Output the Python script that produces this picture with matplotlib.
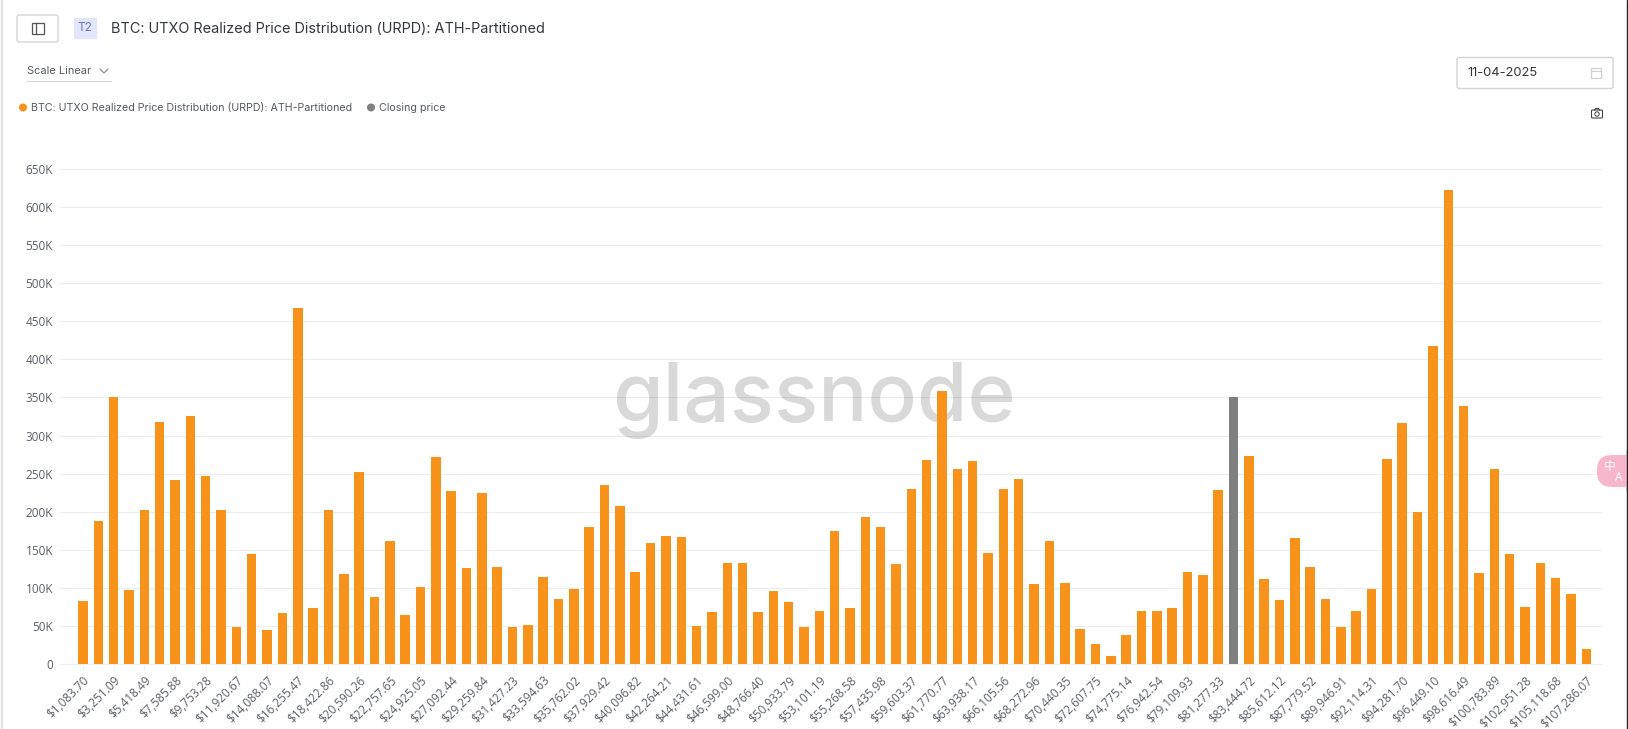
import numpy as np
import matplotlib
matplotlib.use("Agg")
import matplotlib.pyplot as plt
from matplotlib.patches import Rectangle, FancyBboxPatch, Circle

# every second bin gets a label
tick_labels = ["$1,083.70", "$3,251.09", "$5,418.49", "$7,585.88", "$9,753.28", "$11,920.67", "$14,088.07",
               "$16,255.47", "$18,422.86", "$20,590.26", "$22,757.65", "$24,925.05", "$27,092.44", "$29,259.84",
               "$31,427.23", "$33,594.63", "$35,762.02", "$37,929.42", "$40,096.82", "$42,264.21", "$44,431.61",
               "$46,599.00", "$48,766.40", "$50,933.79", "$53,101.19", "$55,268.58", "$57,435.98", "$59,603.37",
               "$61,770.77", "$63,938.17", "$66,105.56", "$68,272.96", "$70,440.35", "$72,607.75", "$74,775.14",
               "$76,942.54", "$79,109.93", "$81,277.33", "$83,444.72", "$85,612.12", "$87,779.52", "$89,946.91",
               "$92,114.31", "$94,281.70", "$96,449.10", "$98,616.49", "$100,783.89", "$102,951.28", "$105,118.68",
               "$107,286.07"]

# supply per bin, in thousands of BTC
urpd_k = [83, 188, 351, 97, 202, 318, 242, 326, 247, 202,
          48, 144, 44, 67, 468, 73, 202, 118, 252, 88,
          161, 64, 101, 272, 227, 126, 225, 128, 48, 51,
          114, 86, 98, 180, 235, 207, 121, 159, 168, 167,
          50, 68, 132, 132, 68, 96, 81, 48, 69, 175,
          74, 193, 180, 131, 230, 268, 359, 256, 267, 146,
          230, 243, 105, 162, 107, 46, 26, 10, 38, 70,
          69, 73, 121, 117, 228, 351, 273, 112, 84, 165,
          128, 85, 48, 69, 98, 269, 317, 200, 418, 623,
          339, 120, 256, 144, 75, 132, 113, 92, 20]
close_bin = 75

y_ticks_k = [0, 50, 100, 150, 200, 250, 300, 350, 400, 450, 500, 550, 600, 650]

W, H = 1628, 729
ORANGE = "#F7931A"
GREY = "#7f7f7f"
TXT = "#5a5f66"

plt.rcParams["font.family"] = ["Open Sans", "DejaVu Sans"]

fig = plt.figure(figsize=(W / 100, H / 100), dpi=100, facecolor="white")

# watermark sits under the grid and the bars
bg = fig.add_axes([0, 0, 1, 1])
bg.set_xlim(0, W)
bg.set_ylim(H, 0)
bg.axis("off")
bg.text(612, 421, "glassnode", fontsize=59, family="Inter", weight="medium", color="#d9d9d9",
        va="baseline", ha="left")

# chart axes placed by pixel edges
left, right, top, bottom = 60, 1602, 169, 664
ax = fig.add_axes([left / W, 1 - bottom / H, (right - left) / W, (bottom - top) / H], facecolor="none")
pitch = 15.34
x0 = 83
ax.set_xlim((left - x0) / pitch, (right - x0) / pitch)
ax.set_ylim(0, 650000)

xs = np.arange(len(urpd_k))
vals = np.array(urpd_k) * 1000
colors = [GREY if i == close_bin else ORANGE for i in xs]
ax.bar(xs, vals, width=0.62, color=colors, zorder=3)

ax.set_yticks([v * 1000 for v in y_ticks_k])
ax.set_yticklabels(["0" if v == 0 else f"{v}K" for v in y_ticks_k], fontsize=8.5, color=TXT)
ax.set_xticks(xs[::2])
ax.set_xticklabels(tick_labels, rotation=45, ha="right", rotation_mode="anchor",
                   fontsize=8.5, color=TXT)
ax.tick_params(axis="y", length=0, pad=5)
ax.tick_params(axis="x", length=4, width=0.8, color="#f0f0f0", pad=3)
ax.grid(axis="y", color="black", alpha=0.07, lw=0.8, zorder=0)
ax.set_axisbelow(True)
for s in ["top", "left", "right"]:
    ax.spines[s].set_visible(False)
ax.spines["bottom"].set_color("#efefef")

# page furniture drawn in pixel coordinates on a full-figure overlay
ui = fig.add_axes([0, 0, 1, 1], facecolor="none")
ui.set_xlim(0, W)
ui.set_ylim(H, 0)
ui.axis("off")

ui.add_patch(Rectangle((1, 0), 1.2, H, color="#e3e3e3"))
ui.add_patch(Rectangle((W - 1.5, 0), 1.5, H, color="#222222"))

# panel toggle button
ui.add_patch(FancyBboxPatch((17, 15), 41, 27, boxstyle="round,pad=0,rounding_size=2",
                            fc="white", ec="#d4d4d4", lw=1))
ui.add_patch(Rectangle((32, 23), 12, 11, fc="none", ec="#555555", lw=0.9))
ui.plot([36, 36], [23, 34], color="#555555", lw=0.9)

# tier badge and title
ui.add_patch(Rectangle((74, 18), 22, 20, color="#e3e6fa"))
ui.text(85, 28, "T2", fontsize=8.5, family="Inter", color="#6f78c8", ha="center", va="center")
ui.text(111, 29, "BTC: UTXO Realized Price Distribution (URPD): ATH-Partitioned",
        fontsize=10.4, family="Inter", color="#33373d", va="center")

# scale dropdown
ui.text(27, 71, "Scale Linear", fontsize=7.9, family="Inter", color="#555a60", va="center")
ui.plot([27, 111], [81, 81], color="#d8d8d8", lw=0.8)
ui.plot([100, 104, 108], [69, 73, 69], color="#888888", lw=0.8)

# legend row
ui.add_patch(Circle((23, 107.5), 3.3, color=ORANGE))
ui.text(31, 107.5, "BTC: UTXO Realized Price Distribution (URPD): ATH-Partitioned",
        fontsize=7.7, family="Inter", color="#555a60", va="center")
ui.add_patch(Circle((371, 107.5), 3.3, color=GREY))
ui.text(379, 107.5, "Closing price", fontsize=7.7, family="Inter", color="#555a60", va="center")

# date box
ui.add_patch(FancyBboxPatch((1457, 57.5), 156, 31, boxstyle="round,pad=0,rounding_size=2",
                            fc="white", ec="#d4d4d4", lw=1))
ui.text(1467, 73, "11-04-2025", fontsize=9.3, family="Inter", color="#33373d", va="center")
ui.add_patch(Rectangle((1591, 68), 10, 10, fc="none", ec="#d0d0d0", lw=0.9))
ui.plot([1591, 1601], [71, 71], color="#d0d0d0", lw=0.9)

# camera icon
ui.add_patch(FancyBboxPatch((1591.5, 110), 11, 8, boxstyle="round,pad=0,rounding_size=1",
                            fc="none", ec="#444444", lw=0.8))
ui.plot([1594.5, 1595.5, 1598.5, 1599.5], [110, 108.5, 108.5, 110], color="#444444", lw=0.8)
ui.add_patch(Circle((1597, 114), 2.2, fc="none", ec="#444444", lw=0.7))

# translate button stuck to the right edge
ui.add_patch(FancyBboxPatch((1597, 455), 60, 32, boxstyle="round,pad=0,rounding_size=15",
                            fc="#f8b6cd", ec="none", zorder=6))
ui.add_patch(Rectangle((W - 1.5, 450), 1.5, 40, color="#222222", zorder=7))
ui.text(1610, 466, "中", fontsize=8.5, family=["Noto Sans CJK SC", "DejaVu Sans"], color="white",
        ha="center", va="center", zorder=8)
ui.text(1619, 477, "A", fontsize=8.5, color="white", ha="center", va="center", zorder=8)

fig.savefig("out.png", dpi=100)
